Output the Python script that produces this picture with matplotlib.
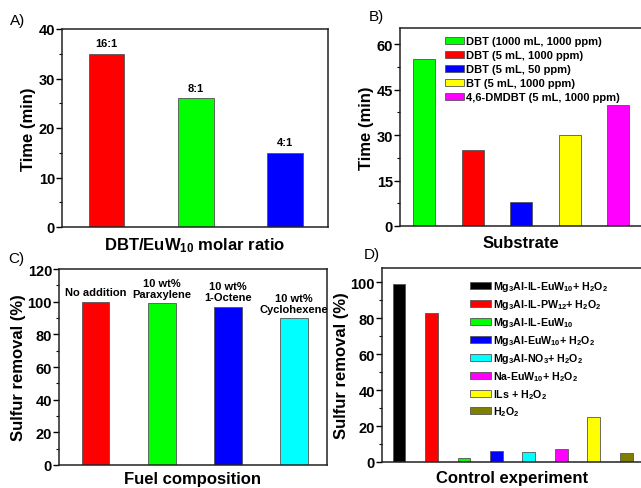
import matplotlib
matplotlib.use('Agg')
import matplotlib.pyplot as plt
from matplotlib.ticker import MultipleLocator

plt.rcParams['font.family'] = ['Liberation Sans', 'DejaVu Sans']
plt.rcParams['mathtext.fontset'] = 'custom'
plt.rcParams['mathtext.rm'] = 'Liberation Sans:bold'
plt.rcParams['mathtext.it'] = 'Liberation Sans:bold'
plt.rcParams['mathtext.bf'] = 'Liberation Sans:bold'
plt.rcParams['mathtext.default'] = 'rm'

# panel A
ratio_labels = ['16:1', '8:1', '4:1']
ratio_time = [35, 26, 15]
ratio_colors = ['#ff0000', '#00ff00', '#0000ff']

# panel B
substrates = ['DBT (1000 mL, 1000 ppm)', 'DBT (5 mL, 1000 ppm)', 'DBT (5 mL, 50 ppm)',
              'BT (5 mL, 1000 ppm)', '4,6-DMDBT (5 mL, 1000 ppm)']
substrate_time = [55, 25, 8, 30, 40]
substrate_colors = ['#00ff00', '#ff0000', '#0000ff', '#ffff00', '#ff00ff']

# panel C
fuel_labels = ['No addition', '10 wt%\nParaxylene', '10 wt%\n1-Octene', '10 wt%\nCyclohexene']
fuel_removal = [100, 99, 97, 90]
fuel_colors = ['#ff0000', '#00ff00', '#0000ff', '#00ffff']

# panel D
control_labels = [r'Mg$_3$Al-IL-EuW$_{10}$+ H$_2$O$_2$', r'Mg$_3$Al-IL-PW$_{12}$+ H$_2$O$_2$',
                  r'Mg$_3$Al-IL-EuW$_{10}$', r'Mg$_3$Al-EuW$_{10}$+ H$_2$O$_2$',
                  r'Mg$_3$Al-NO$_3$+ H$_2$O$_2$', r'Na-EuW$_{10}$+ H$_2$O$_2$',
                  r'ILs + H$_2$O$_2$', r'H$_2$O$_2$']
control_removal = [99, 83, 2.5, 6, 5.5, 7, 25, 5]
control_colors = ['#000000', '#ff0000', '#00ff00', '#0000ff', '#00ffff', '#ff00ff', '#ffff00', '#808000']

W, H = 641, 489
fig = plt.figure(figsize=(W / 100, H / 100), dpi=100)


def px_axes(left, top, right, bottom):
    return fig.add_axes([left / W, 1 - bottom / H, (right - left) / W, (bottom - top) / H])


def style(ax, major, minor):
    ax.yaxis.set_major_locator(MultipleLocator(major))
    ax.yaxis.set_minor_locator(MultipleLocator(minor))
    ax.tick_params(axis='y', which='major', direction='out', length=4, width=1, labelsize=10.5, pad=1)
    ax.tick_params(axis='y', which='minor', direction='out', length=2, width=0.8)
    ax.tick_params(axis='x', which='both', bottom=False, labelbottom=False)
    for lab in ax.get_yticklabels():
        lab.set_fontweight('bold')
    for s in ax.spines.values():
        s.set_linewidth(1.1)
        s.set_color('#222222')


edge = '#555555'
lab_font = dict(fontsize=12, fontweight='bold')

# A
axA = px_axes(62, 30, 328, 228)
xa = range(1, len(ratio_time) + 1)
axA.bar(xa, ratio_time, width=0.4, color=ratio_colors, edgecolor=edge, linewidth=0.6)
for x, v, t in zip(xa, ratio_time, ratio_labels):
    axA.annotate(t, (x, v), xytext=(0, 4), textcoords='offset points', ha='center', va='bottom',
                 fontsize=8, fontweight='bold')
axA.set_xlim(0.5, 3.48)
axA.set_ylim(0, 40)
style(axA, 10, 5)
axA.set_ylabel('Time (min)', labelpad=2, **lab_font)
axA.set_xlabel(r'DBT/EuW$_{10}$ molar ratio', labelpad=6, **lab_font)
fig.text(10 / W, 1 - 21 / H, 'A)', fontsize=11, va='center')

# B
axB = px_axes(400, 29, 642.5, 227)
xb = range(1, len(substrate_time) + 1)
bars = axB.bar(xb, substrate_time, width=0.45, color=substrate_colors, edgecolor=edge, linewidth=0.6)
axB.set_xlim(0.5, 5.5)
axB.set_ylim(0, 65.3)
style(axB, 15, 7.5)
axB.set_ylabel('Time (min)', labelpad=2, **lab_font)
axB.set_xlabel('Substrate', labelpad=6.5, **lab_font)
axB.legend(bars, substrates, loc='upper left', bbox_to_anchor=(0.15, 1.0), frameon=False,
           prop={'size': 8, 'weight': 'bold'}, handlelength=1.75, handleheight=0.65,
           handletextpad=0.15, labelspacing=0.36, borderaxespad=0.35)
fig.text(369 / W, 1 - 17 / H, 'B)', fontsize=11, va='center')

# C
axC = px_axes(59, 270, 327, 466)
xc = range(1, len(fuel_removal) + 1)
axC.bar(xc, fuel_removal, width=0.41, color=fuel_colors, edgecolor=edge, linewidth=0.6)
for x, v, t in zip(xc, fuel_removal, fuel_labels):
    axC.annotate(t, (x, v), xytext=(0, 3), textcoords='offset points', ha='center', va='bottom',
                 fontsize=8, fontweight='bold', linespacing=1.15)
axC.set_xlim(0.44, 4.5)
axC.set_ylim(0, 120)
style(axC, 20, 10)
axC.set_ylabel('Sulfur removal (%)', labelpad=1, **lab_font)
axC.set_xlabel('Fuel composition', labelpad=4, **lab_font)
fig.text(8 / W, 1 - 259 / H, 'C)', fontsize=11, va='center')

# D
axD = px_axes(382, 269, 642.5, 463)
xd = range(1, len(control_removal) + 1)
bars = axD.bar(xd, control_removal, width=0.39, color=control_colors, edgecolor=edge, linewidth=0.6)
axD.set_xlim(0.48, 8.5)
axD.set_ylim(0, 107.8)
style(axD, 20, 10)
axD.set_ylabel('Sulfur removal (%)', labelpad=1, **lab_font)
axD.set_xlabel('Control experiment', labelpad=6, **lab_font)
axD.legend(bars, control_labels, loc='upper left', bbox_to_anchor=(0.31, 0.98), frameon=False,
           prop={'size': 7.7, 'weight': 'bold'}, handlelength=1.9, handleheight=0.65,
           handletextpad=0.25, labelspacing=0.37, borderaxespad=0.3)
fig.text(364 / W, 1 - 255 / H, 'D)', fontsize=11, va='center')

fig.savefig('out.png', dpi=100)
